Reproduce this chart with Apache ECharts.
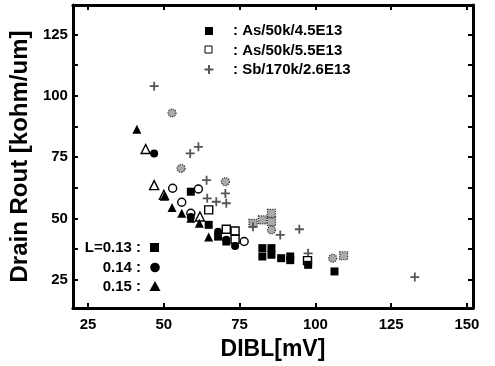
<!DOCTYPE html>
<html>
<head>
<meta charset="utf-8">
<script src="https://cdn.jsdelivr.net/npm/echarts@6/dist/echarts.min.js"></script>
<style>
  html, body { margin: 0; padding: 0; background: #fff; }
  #chart { width: 495px; height: 366px; }
</style>
</head>
<body>
<div id="chart"></div>
<script>
// DIBL [mV], Rout [kohm/um] pairs
const l013As45 = [[58.9, 60.9], [64.8, 47.4], [67.9, 42.6], [70.6, 40.6], [82.5, 37.9], [82.5, 34.5],
  [85.5, 37.9], [85.5, 35.2], [88.7, 33.8], [91.7, 34.5], [91.7, 33.0], [97.6, 31.1], [106.3, 28.4]];
const l013As55 = [[64.8, 53.5], [70.6, 45.6], [73.5, 44.9], [73.5, 41.5], [97.4, 32.8]];
const l014As45 = [[46.8, 76.5], [58.9, 50.6], [67.9, 44.6], [70.6, 41.3], [73.5, 38.8]];
const l014As55 = [[52.9, 62.3], [55.9, 56.6], [58.9, 52.1], [61.4, 62.0], [76.5, 40.6]];
const l015As45 = [[41.1, 86.4], [50.2, 59.0], [52.7, 54.5], [55.9, 52.1], [58.9, 50.1], [61.7, 48.0], [64.8, 42.4]];
const l015As55 = [[44.0, 78.3], [46.8, 63.6], [50.0, 59.6], [61.9, 50.8]];
const sbL013 = [[79.4, 48.0], [82.5, 49.4], [85.5, 52.1], [85.5, 48.6], [109.3, 34.8]];
const sbL014 = [[52.7, 93.0], [55.7, 70.4], [70.3, 65.0], [85.5, 45.3], [105.7, 33.8]];
const sbL015 = [[46.8, 103.9], [58.7, 76.5], [61.4, 79.2], [64.1, 65.6], [64.3, 58.2], [67.3, 56.8],
  [70.3, 60.2], [70.6, 56.2], [79.4, 46.6], [88.4, 43.3], [94.7, 45.6], [97.6, 35.8], [132.8, 26.1]];

const xTicks = [25, 50, 75, 100, 125, 150];
const yTicks = [25, 37.5, 50, 62.5, 75, 87.5, 100, 112.5, 125];
const yLabels = [25, 50, 75, 100, 125];
const processLabels = [': As/50k/4.5E13', ': As/50k/5.5E13', ': Sb/170k/2.6E13'];
const lengthLabels = ['L=0.13 :', '0.14 :', '0.15 :'];

const FONT = '"Liberation Sans", Arial, sans-serif';
const chart = echarts.init(document.getElementById('chart'), null, { renderer: 'canvas' });

const frameLine = { lineStyle: { color: '#000', width: 3 } };
const tickStyle = (vals) => ({ show: true, inside: true, length: 5, customValues: vals, lineStyle: { color: '#000', width: 2 } });
const hatch = { color: '#aaa', borderColor: '#333', borderWidth: 1.2, borderType: 'dotted', opacity: 1 };
const plusPath = 'path://M4,0h2v4h4v2h-4v4h-2v-4h-4v-2h4z';

function scatter(name, data, symbol, size, itemStyle) {
  return { name, type: 'scatter', data, symbol, symbolSize: size, itemStyle: Object.assign({ opacity: 1 }, itemStyle), z: 3 };
}

const option = {
  backgroundColor: '#fff',
  animation: false,
  grid: { left: 68, right: 22, top: 5, bottom: 58 },
  xAxis: [
    {
      type: 'value', min: 20, max: 152, position: 'bottom',
      axisLine: frameLine, axisTick: tickStyle(xTicks), splitLine: { show: false },
      axisLabel: { customValues: xTicks, margin: 9, color: '#000', fontFamily: FONT, fontWeight: 'bold', fontSize: 15 },
      name: 'DIBL[mV]', nameLocation: 'middle', nameGap: 30,
      nameTextStyle: { color: '#000', fontFamily: FONT, fontWeight: 'bold', fontSize: 23 }
    },
    {
      type: 'value', min: 20, max: 152, position: 'top',
      axisLine: frameLine, axisTick: tickStyle(xTicks), axisLabel: { show: false }, splitLine: { show: false }
    }
  ],
  yAxis: [
    {
      type: 'value', min: 13.5, max: 137, position: 'left',
      axisLine: frameLine, axisTick: tickStyle(yTicks), splitLine: { show: false },
      axisLabel: { customValues: yLabels, margin: 5, color: '#000', fontFamily: FONT, fontWeight: 'bold', fontSize: 15 },
      name: 'Drain Rout [kohm/um]', nameLocation: 'middle', nameGap: 33,
      nameTextStyle: { color: '#000', fontFamily: FONT, fontWeight: 'bold', fontSize: 24 }
    },
    {
      type: 'value', min: 13.5, max: 137, position: 'right',
      axisLine: frameLine, axisTick: tickStyle(yTicks), axisLabel: { show: false }, splitLine: { show: false }
    }
  ],
  series: [
    scatter('Sb L=0.13', sbL013, 'rect', 8, hatch),
    scatter('Sb L=0.14', sbL014, 'circle', 8, hatch),
    scatter('Sb L=0.15', sbL015, plusPath, 9, { color: '#555' }),
    scatter('As5.5 L=0.13', l013As55, 'rect', 8, { color: '#fff', borderColor: '#000', borderWidth: 1.4 }),
    scatter('As5.5 L=0.14', l014As55, 'circle', 8, { color: '#fff', borderColor: '#000', borderWidth: 1.4 }),
    scatter('As5.5 L=0.15', l015As55, 'triangle', 9, { color: '#fff', borderColor: '#000', borderWidth: 1.4 }),
    scatter('As4.5 L=0.13', l013As45, 'rect', 8, { color: '#000' }),
    scatter('As4.5 L=0.14', l014As45, 'circle', 8, { color: '#000' }),
    scatter('As4.5 L=0.15', l015As45, 'triangle', 9, { color: '#000' })
  ],
  graphic: [
    // process legend, top
    { type: 'rect', shape: { x: 205, y: 27, width: 8, height: 8 }, style: { fill: '#000' } },
    { type: 'rect', shape: { x: 205, y: 46, width: 7, height: 7 }, style: { fill: '#fff', stroke: '#000', lineWidth: 1 } },
    { type: 'rect', shape: { x: 208, y: 65, width: 2, height: 9 }, style: { fill: '#555' } },
    { type: 'rect', shape: { x: 204.5, y: 68.5, width: 9, height: 2 }, style: { fill: '#555' } },
    ...processLabels.map((t, i) => ({
      type: 'text', x: 233, y: 31 + i * 19.5,
      style: { text: t, fill: '#000', font: 'bold 15px ' + FONT, textVerticalAlign: 'middle' }
    })),
    // gate length legend, lower left
    ...lengthLabels.map((t, i) => ({
      type: 'text', x: 141, y: 248 + i * 19.5,
      style: { text: t, fill: '#000', font: 'bold 15px ' + FONT, textAlign: 'right', textVerticalAlign: 'middle' }
    })),
    { type: 'rect', shape: { x: 150, y: 243, width: 9, height: 9 }, style: { fill: '#000' } },
    { type: 'circle', shape: { cx: 155, cy: 267.5, r: 4.8 }, style: { fill: '#000' } },
    { type: 'polygon', shape: { points: [[155, 281], [149.5, 291], [160.5, 291]] }, style: { fill: '#000' } }
  ]
};

chart.setOption(option);
window.addEventListener('resize', () => chart.resize());
</script>
</body>
</html>
